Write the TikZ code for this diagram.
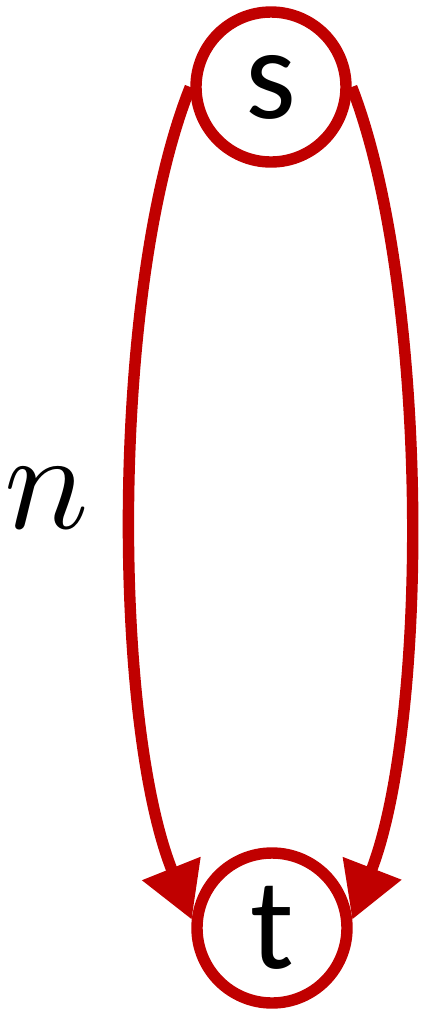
\documentclass[tikz,border=0pt]{standalone}
\usepackage{fontspec}
\setmainfont{Carlito}
\usepackage{tikz}
\usetikzlibrary{arrows.meta, positioning}

\definecolor{pathred}{RGB}{192,0,0}

\tikzset{
  vertex/.style={circle, draw=pathred, line width=6.5pt, fill=white, minimum size=3.0cm, inner sep=0pt, font=\fontsize{74}{74}\selectfont},
  flowedge/.style={draw=pathred, line width=6.5pt, -{Triangle[length=1.1cm, width=1.2cm]}}
}

\begin{document}
\begin{tikzpicture}
        \useasboundingbox (0,0) rectangle (8.44,-20.22);

        % Source and sink
        \node[vertex] (s) at (5.42,-1.74) {s};
        \node[vertex] (t) at (5.44,-18.56) {t};

        % Two parallel paths
        \draw[flowedge] (s.west) .. controls +(-1.6,-4.0) and +(-1.6,4.0) .. (t.174);
        \draw[flowedge] (s.east) .. controls +(1.55,-4.0) and +(1.55,4.0) .. (t.6);

        % Label
        \node[scale=8] (lbl) at (0.94,-9.96) {$n$};
      \end{tikzpicture}
\end{document}
